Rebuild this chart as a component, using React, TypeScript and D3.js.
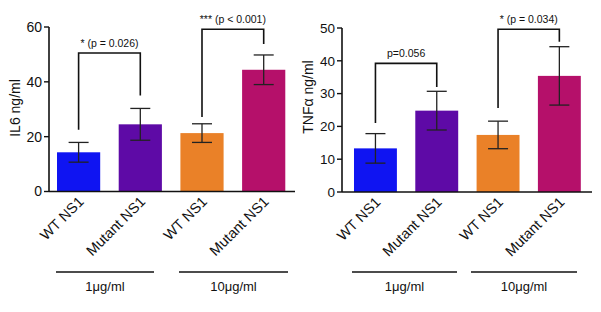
import React from "react";
import * as d3 from "d3";

const categories = ["WT NS1", "Mutant NS1", "WT NS1", "Mutant NS1"];
const colors = ["#0f14f2", "#5e0aa6", "#ea8128", "#b5106a"];
const groups = ["1\u03bcg/ml", "10\u03bcg/ml"];

const il6Means = [14.3, 24.5, 21.3, 44.4];
const il6Errors = [3.6, 5.8, 3.4, 5.4];
const il6Ticks = [0, 20, 40, 60];

const tnfMeans = [13.3, 24.8, 17.4, 35.4];
const tnfErrors = [4.5, 5.9, 4.2, 8.9];
const tnfTicks = [0, 10, 20, 30, 40, 50];

const il6Brackets = [
  { a: 0, b: 1, y: 50.5, ya: 22.5, yb: 35, label: "* (p = 0.026)" },
  { a: 2, b: 3, y: 59.2, ya: 27.2, yb: 53.8, label: "*** (p < 0.001)" },
];
const tnfBrackets = [
  { a: 0, b: 1, y: 39.2, ya: 21, yb: 32, label: "p=0.056" },
  { a: 2, b: 3, y: 49.6, ya: 25.6, yb: 45.8, label: "* (p = 0.034)" },
];

const FONT = "Liberation Sans, Arial, Helvetica, sans-serif";

type PanelProps = {
  means: number[];
  errors: number[];
  ticks: number[];
  yMax: number;
  yLabel: string;
  brackets: { a: number; b: number; y: number; ya: number; yb: number; label: string }[];
  axisX: number;
  axisEnd: number;
  yTop: number;
  yBottom: number;
  bandStart: number;
  bandEnd: number;
  labelX: number;
  labelY: number;
  groupLines: [number, number][];
  tickFont: number;
};

function Panel(p: PanelProps) {
  const x = d3
    .scaleBand<number>()
    .domain(d3.range(categories.length))
    .range([p.bandStart, p.bandEnd])
    .paddingInner(0.3)
    .paddingOuter(0.3);
  const y = d3.scaleLinear().domain([0, p.yMax]).range([p.yBottom, p.yTop]);
  const bw = x.bandwidth();
  const cx = (i: number) => (x(i) as number) + bw / 2;
  const capW = 10;
  return (
    <g>
      {p.means.map((m, i) => (
        <rect
          key={"b" + i}
          x={x(i)}
          y={y(m)}
          width={bw}
          height={y(0) - y(m)}
          fill={colors[i]}
        />
      ))}
      {p.means.map((m, i) => {
        const e = p.errors[i];
        return (
          <g key={"e" + i} stroke="#222" strokeWidth={1.3}>
            <line x1={cx(i)} x2={cx(i)} y1={y(m + e)} y2={y(m - e)} />
            <line x1={cx(i) - capW} x2={cx(i) + capW} y1={y(m + e)} y2={y(m + e)} />
            <line x1={cx(i) - capW} x2={cx(i) + capW} y1={y(m - e)} y2={y(m - e)} />
          </g>
        );
      })}
      <line x1={p.axisX} x2={p.axisX} y1={y(p.yMax)} y2={y(0)} stroke="#111" strokeWidth={1.6} />
      <line x1={p.axisX} x2={p.axisEnd} y1={y(0)} y2={y(0)} stroke="#111" strokeWidth={1.6} />
      {p.ticks.map((t) => (
        <g key={"t" + t}>
          <line x1={p.axisX - 5} x2={p.axisX} y1={y(t)} y2={y(t)} stroke="#111" strokeWidth={1.4} />
          <text
            x={p.axisX - 7}
            y={y(t)}
            dy="0.35em"
            textAnchor="end"
            fontSize={p.tickFont}
            fontFamily={FONT}
            fill="#111"
          >
            {t}
          </text>
        </g>
      ))}
      <text
        transform={`translate(${p.labelX},${p.labelY}) rotate(-90)`}
        textAnchor="middle"
        fontSize={14}
        fontFamily={FONT}
        fill="#111"
      >
        {p.yLabel}
      </text>
      {categories.map((c, i) => (
        <text
          key={"c" + i}
          transform={`translate(${cx(i) + 6},${y(0) + 11}) rotate(-45)`}
          textAnchor="end"
          fontSize={14.5}
          fontFamily={FONT}
          fill="#111"
        >
          {c}
        </text>
      ))}
      {p.brackets.map((b, i) => (
        <g key={"br" + i}>
          <path
            d={`M${cx(b.a)},${y(b.ya)}V${y(b.y)}H${cx(b.b)}V${y(b.yb)}`}
            fill="none"
            stroke="#111"
            strokeWidth={1.6}
          />
          <text
            x={(cx(b.a) + cx(b.b)) / 2}
            y={y(b.y) - 6}
            textAnchor="middle"
            fontSize={10.5}
            fontFamily={FONT}
            fill="#111"
          >
            {b.label}
          </text>
        </g>
      ))}
      {p.groupLines.map((gl, i) => (
        <g key={"g" + i}>
          <line x1={gl[0]} x2={gl[1]} y1={272} y2={272} stroke="#111" strokeWidth={1.4} />
          <text
            x={(gl[0] + gl[1]) / 2}
            y={291}
            textAnchor="middle"
            fontSize={13}
            fontFamily={FONT}
            fill="#111"
          >
            {groups[i]}
          </text>
        </g>
      ))}
    </g>
  );
}

export default function App() {
  return (
    <svg
      width={601}
      height={312}
      style={{ position: "absolute", left: 0, top: 0, background: "#fff" }}
    >
      <rect width={601} height={312} fill="#fff" />
      <Panel
        means={il6Means}
        errors={il6Errors}
        ticks={il6Ticks}
        yMax={60}
        yLabel={"IL6 ng/ml"}
        brackets={il6Brackets}
        axisX={49}
        axisEnd={295}
        yTop={27}
        yBottom={191.5}
        bandStart={38.5}
        bandEnd={303.8}
        labelX={20}
        labelY={108}
        groupLines={[
          [56, 154],
          [179, 288],
        ]}
        tickFont={14}
      />
      <Panel
        means={tnfMeans}
        errors={tnfErrors}
        ticks={tnfTicks}
        yMax={50}
        yLabel={"TNF\u03b1 ng/ml"}
        brackets={tnfBrackets}
        axisX={342}
        axisEnd={592}
        yTop={28}
        yBottom={192}
        bandStart={335.6}
        bandEnd={599.2}
        labelX={313}
        labelY={97}
        groupLines={[
          [352, 457],
          [471, 577],
        ]}
        tickFont={13.5}
      />
    </svg>
  );
}
